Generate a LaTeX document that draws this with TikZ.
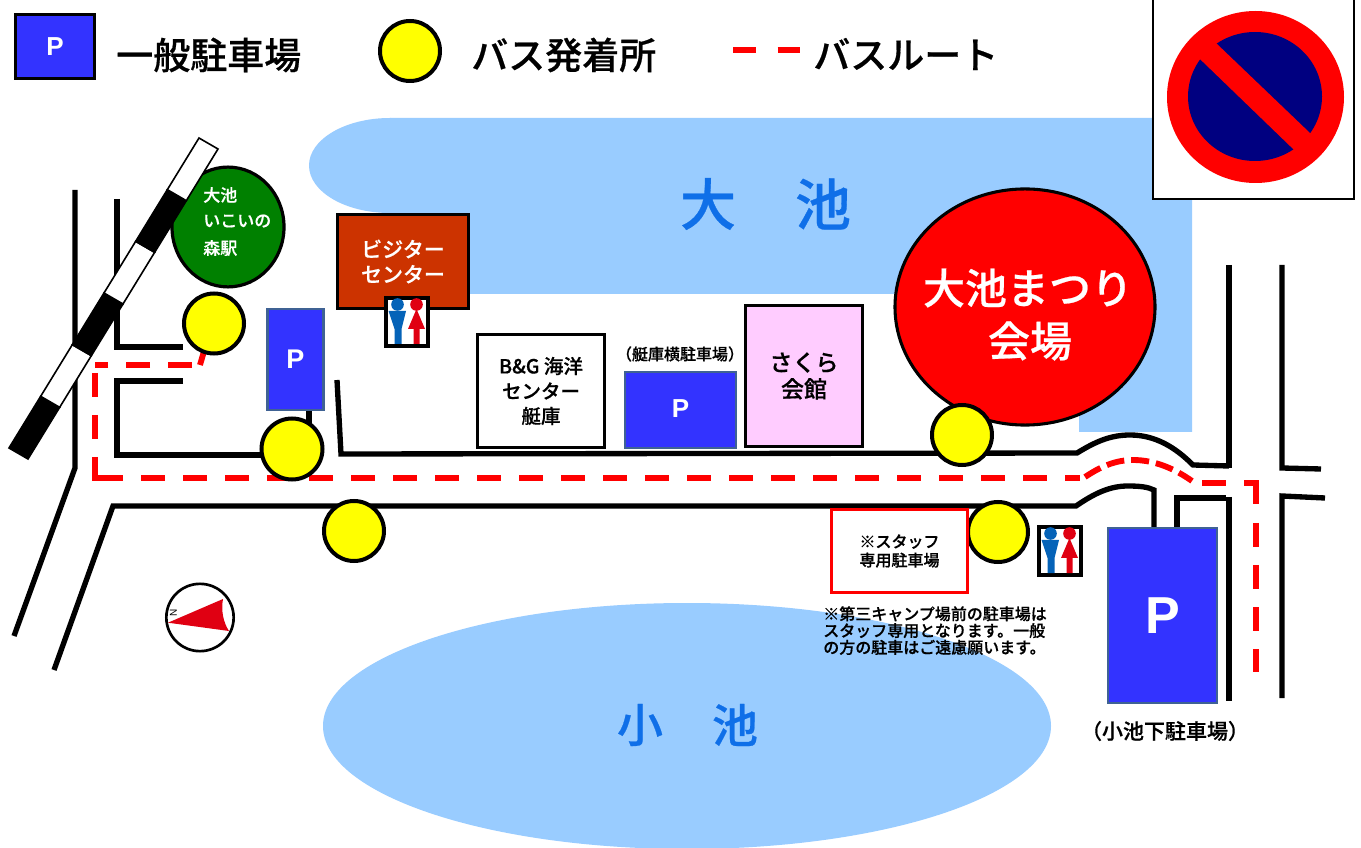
\documentclass[tikz,border=0pt]{standalone}
\usepackage{fontspec}
\usetikzlibrary{calc}
\setmainfont{Noto Sans CJK JP}[BoldFont={Noto Sans CJK JP Medium},BoldFeatures={FakeBold=0.5}]
\newfontfamily\pfont{Liberation Sans}
\newcommand\fs[1]{\fontsize{\fpeval{#1*0.75}}{\fpeval{#1*0.9}}\selectfont}
\definecolor{lake}{HTML}{99CCFF}
\definecolor{pblue}{HTML}{3333FF}
\definecolor{pedge}{HTML}{3F6294}
\definecolor{laketext}{HTML}{0F6FE8}
\definecolor{mwblue}{HTML}{0563B8}
\definecolor{mwred}{HTML}{E00012}
\definecolor{navy2}{HTML}{000080}
\definecolor{stopyellow}{HTML}{FFFF00}
\tikzset{
  road/.style={line width=4pt,black,line cap=butt,line join=miter},
  busroute/.style={line width=4.4pt,red,dash pattern=on 18pt off 13.5pt},
  routesolid/.style={line width=4.4pt,red},
  stopdot/.style={circle,draw=black,line width=3pt,fill=stopyellow,minimum size=#1*0.75pt,inner sep=0pt},
  parkbox/.style={draw=pedge,line width=1.9pt,fill=pblue,text=white,inner sep=0pt,font=\pfont\bfseries},
  bldg/.style={draw=black,line width=2.3pt,inner sep=0pt,align=center,font=\bfseries},
  lbl/.style={inner sep=0pt,align=center,font=\bfseries},
  toiletbox/.style={draw=black,line width=3pt,fill=white,inner sep=0pt,minimum width=31.5pt,minimum height=36pt}
}
\newcommand\toilet[3]{% name, left, top of box centre line
  \node[toiletbox,anchor=north west] (#1) at (#2,#3) {};
  \fill[mwblue] (#2+13.5,#3+8.5) circle[radius=6.3];
  \fill[mwblue] (#2+4.5,#3+15) -- (#2+22,#3+15) -- (#2+17.5,#3+33) -- (#2+17.5,#3+48) -- (#2+10.5,#3+48) -- (#2+10.5,#3+33) -- cycle;
  \fill[mwred] (#2+32.5,#3+8.5) circle[radius=6.3];
  \fill[mwred] (#2+32.5,#3+13) -- (#2+41,#3+33) -- (#2+35.5,#3+33) -- (#2+35.5,#3+48) -- (#2+29.5,#3+48) -- (#2+29.5,#3+33) -- (#2+24,#3+33) -- cycle;
}
\begin{document}
\begin{tikzpicture}[x=0.75pt,y=-0.75pt]
\useasboundingbox (0,0) rectangle (1361,848);
\fill[white] (0,0) rectangle (1361,848);

% lakes
\fill[lake] (390,165.5) ellipse[x radius=81,y radius=47.5];
\fill[lake] (390,118) -- (1192,118) -- (1192,432) -- (1079,432) -- (1079,294) -- (440,294) -- (440,213) -- (390,213) -- cycle;
\fill[lake] (687,726) ellipse[x radius=364,y radius=123];
\node[lbl,text=laketext] (oike1) at (708,204) {\fs{56}大};
\node[lbl,text=laketext] (oike2) at (823,204) {\fs{56}池};
\node[lbl,text=laketext] (koike1) at (640,725) {\fs{46}小};
\node[lbl,text=laketext] (koike2) at (735,725) {\fs{46}池};

% roads
\draw[road] (75,190) -- (75,468) -- (14,636);
\draw[road] (117,199) -- (117,347) -- (183,347);
\draw[road] (183,381) -- (117,381) -- (117,455) -- (265,455);
\draw[road] (309,408) -- (309,425);
\draw[road] (337,380) -- (341,454) -- (1077,453) .. controls (1095,442) and (1110,435) .. (1130,435)
  .. controls (1155,435) and (1175,447) .. (1193,465) -- (1229,466);
\draw[road] (1229,265) -- (1229,468);
\draw[road] (54,670) -- (113,506) -- (1076,506) .. controls (1095,493) and (1110,486) .. (1128,486)
  .. controls (1140,486) and (1148,487) .. (1154,490) -- (1154,529);
\draw[road] (1177,529) -- (1177,498) -- (1226,498);
\draw[road] (1229,497) -- (1229,701);
\draw[road] (1282,265) -- (1282,468) -- (1321,469);
\draw[road] (1325,498) -- (1282,496) -- (1282,698);

% railway and station
\node[circle,draw=black,line width=2.4pt,fill=green!50!black,minimum width=84pt,inner sep=0pt,yscale=1.07] (station) at (228,227) {};
\foreach \i/\c in {0/black,1/white,2/black,3/white,4/black,5/white}{
  \pgfmathsetmacro\a{\i/6}\pgfmathsetmacro\b{(\i+1)/6}
  \filldraw[draw=black,line width=1.2pt,fill=\c]
    ($(9,448)!\a!(199,138)$) -- ($(9,448)!\b!(199,138)$) -- ($(28,459)!\b!(218,149)$) -- ($(28,459)!\a!(218,149)$) -- cycle;
}
\node[lbl,text=white,anchor=west] (st1) at (203,195) {\fs{17}大池};
\node[lbl,text=white,anchor=west] (st2) at (203,221) {\fs{17}いこいの};
\node[lbl,text=white,anchor=west] (st3) at (203,248) {\fs{17}森駅};

% buildings
\node[bldg,fill={rgb,255:red,204;green,51;blue,0},text=white,minimum width=98pt,minimum height=70pt] (visitor) at (403,261.5) {\raisebox{-1pt}{\fs{21}ビジター}\\[4pt]\fs{21}センター};
\toilet{wc1}{384}{296}
\node[parkbox,minimum width=42pt,minimum height=76pt] (p2) at (295.5,359.5) {\fs{27}P};
\node[bldg,fill=white,minimum width=95pt,minimum height=85pt] (bg) at (541,391) {\fs{19.5}B\&G 海洋\\[4.5pt]\fs{19.5}センター\\[4.5pt]\fs{19.5}艇庫};
\node[lbl] (p3l) at (680,354) {\fs{16}（艇庫横駐車場）};
\node[parkbox,minimum width=83pt,minimum height=57pt] (p3) at (680.5,410) {\raisebox{2.2pt}{\fs{26}P}};
\node[bldg,fill={rgb,255:red,255;green,204;blue,255},minimum width=88pt,minimum height=106pt] (sakura) at (804,376) {\fs{23}さくら\\[3pt]\fs{23}会館};
\node[circle,draw=black,line width=2.3pt,fill=red,minimum width=195pt,inner sep=0pt,yscale=0.908] (venue) at (1025,307) {};
\node[lbl,text=white] (v1) at (1028,288) {\fs{42}大池まつり};
\node[lbl,text=white] (v2) at (1030,341) {\fs{42}会場};

% route
\draw[routesolid] (207,341) -- (200,365);
\draw[busroute] (192,365) -- (95,365);
\draw[busroute] (95,373) -- (95,439);
\draw[routesolid] (95,457) -- (95,478) -- (123,478);
\draw[busroute] (141,478) -- (1080,478);
\draw[routesolid,dash pattern=on 13.5pt off 5.2pt] (1085,477) .. controls (1100,467) and (1115,460) .. (1133,460)
  .. controls (1155,460) and (1175,469) .. (1192,481);
\draw[routesolid] (1202,483) -- (1226,483);
\draw[routesolid] (1244,483) -- (1256,483) -- (1256,504);
\draw[busroute] (1256,523) -- (1256,672);

% bus stops
\node[stopdot=60] (s1) at (214,323.5) {};
\node[stopdot=61] (s2) at (292,449) {};
\node[stopdot=60] (s3) at (354,531) {};
\node[stopdot=60] (s4) at (962,435) {};
\node[stopdot=60] (s5) at (998,532) {};

% staff
\node[draw=red,line width=1.8pt,fill=white,inner sep=0pt,minimum width=102pt,minimum height=62pt,align=center,font=\bfseries] (staff) at (899.5,551) {\fs{16}※スタッフ\\[2pt]\fs{16}専用駐車場};
\toilet{wc2}{1037}{525}
\node[lbl,anchor=north west,align=left] (note) at (823,606) {\fs{16}※第三キャンプ場前の駐車場は\\[0.6pt]\fs{16}スタッフ専用となります。一般\\[0.6pt]\fs{16}の方の駐車はご遠慮願います。};
\node[parkbox,minimum width=82pt,minimum height=131pt] (p4) at (1162.5,615.5) {\fs{52}P};
\node[lbl] (p4l) at (1165,731) {\fs{21}（小池下駐車場）};

% compass
\node[circle,draw=black,line width=2pt,fill=white,minimum width=50.5pt,inner sep=0pt] (compass) at (200,617.5) {};
\fill[mwred] (168,622.7) -- (223,599) .. controls (221,610) and (223,622) .. (229,631) -- cycle;
\node[inner sep=0pt,rotate=90,font=\pfont] (north) at (173.5,612.5) {\fs{10}N};

% legend
\node[parkbox,draw=black,minimum width=59pt,minimum height=48pt] (lp) at (55,46.5) {\raisebox{-1.5pt}{\fs{26}P}};
\node[lbl,anchor=west] (lt1) at (116,55) {\fs{37}一般駐車場};
\node[stopdot=60] (ls) at (410,51) {};
\node[lbl,anchor=west] (lt2) at (471,55) {\fs{37}バス発着所};
\coordinate (lr1) at (733,50);
\coordinate (lr2) at (800,50);
\draw[routesolid,dash pattern=on 17pt off 16.5pt] (lr1) -- (lr2);
\node[lbl,anchor=west] (lt3) at (813,54) {\fs{37}バスルート};

% sign
\node[draw=black,line width=1.6pt,fill=white,minimum width=151pt,minimum height=152pt,inner sep=0pt] (sign) at (1253.5,97.5) {};
\fill[red] (1255.5,97) ellipse[x radius=88.5,y radius=86];
\fill[navy2] (1255,96.5) ellipse[x radius=67,y radius=64.5];
\fill[red] (1205,32.5) -- (1322,144.5) -- (1305,160.5) -- (1189,48.5) -- cycle;
\end{tikzpicture}
\end{document}
